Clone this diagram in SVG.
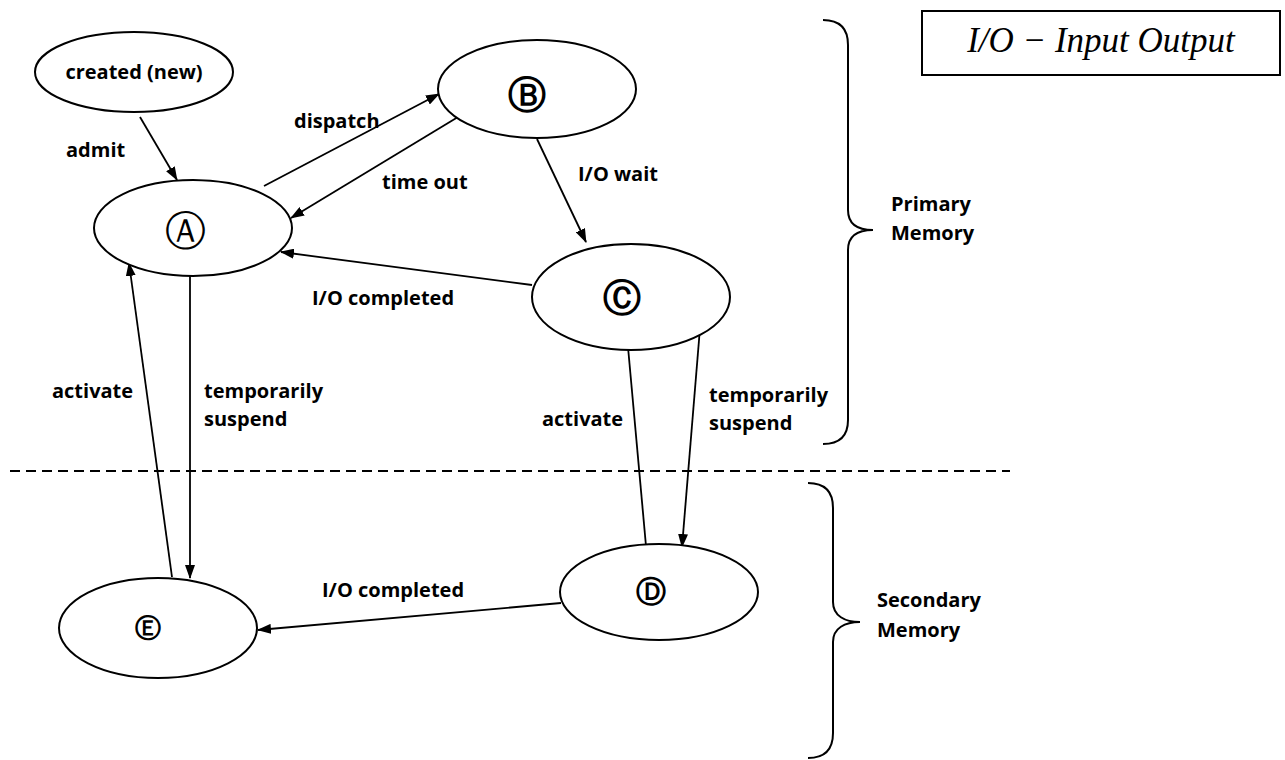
<svg xmlns="http://www.w3.org/2000/svg" width="1285" height="760" viewBox="0 0 1285 760">
<style>
.n{fill:#fff;stroke:#000;stroke-width:2}
.t{font-family:"Open Sans","Liberation Sans",sans-serif;font-weight:bold;font-size:20px;fill:#000}
.c{font-family:"DejaVu Sans",sans-serif;fill:#000;text-anchor:middle}
.e{fill:none;stroke:#000;stroke-width:1.8;marker-end:url(#ah)}
.br{fill:none;stroke:#000;stroke-width:2}
</style>
<defs>
<marker id="ah" markerUnits="userSpaceOnUse" markerWidth="14" markerHeight="10" refX="13" refY="5" orient="auto">
<path d="M0,0 L14,5 L0,10 Z" fill="#000"/>
</marker>
</defs>
<rect width="1285" height="760" fill="#fff"/>
<g id="connectors">
<line class="e" x1="140" y1="117" x2="177" y2="180"/>
<line class="e" x1="264" y1="186" x2="439" y2="94"/>
<line class="e" x1="458" y1="117" x2="291" y2="218"/>
<line class="e" x1="537" y1="139" x2="586" y2="242"/>
<line class="e" x1="532" y1="285" x2="281" y2="252"/>
<line class="e" x1="190" y1="276" x2="190" y2="578"/>
<line class="e" x1="172" y1="577" x2="129" y2="263"/>
<line class="e" x1="700" y1="328" x2="682" y2="547"/>
<line class="e" x1="646" y1="546" x2="627" y2="336"/>
<line class="e" x1="561" y1="603" x2="258" y2="630"/>
</g>
<g id="created"><ellipse class="n" cx="134" cy="72" rx="99" ry="40"/><text class="t" x="134" y="79" text-anchor="middle">created (new)</text></g>
<g id="A"><ellipse class="n" cx="193" cy="228" rx="99" ry="48"/><text class="c" x="185" y="245" font-size="41">Ⓐ</text></g>
<g id="B"><ellipse class="n" cx="537" cy="89" rx="99" ry="49"/><text class="c" x="527" y="108" font-size="38" font-weight="bold">Ⓑ</text></g>
<g id="C"><ellipse class="n" cx="631" cy="297" rx="99" ry="53"/><text class="c" x="622" y="311" font-size="38" font-weight="bold">Ⓒ</text></g>
<g id="D"><ellipse class="n" cx="659" cy="592" rx="99" ry="48"/><text class="c" x="651" y="602" font-size="30" font-weight="bold">Ⓓ</text></g>
<g id="E"><ellipse class="n" cx="158" cy="628" rx="99" ry="50"/><text class="c" x="148" y="637" font-size="26" font-weight="bold">Ⓔ</text></g>
<g id="labels">
<text class="t" x="66" y="157">admit</text>
<text class="t" x="294" y="128">dispatch</text>
<text class="t" x="382" y="189">time out</text>
<text class="t" x="578" y="181">I/O wait</text>
<text class="t" x="312" y="305">I/O completed</text>
<text class="t" x="52" y="398">activate</text>
<text class="t" x="204" y="398">temporarily</text>
<text class="t" x="204" y="426">suspend</text>
<text class="t" x="542" y="426">activate</text>
<text class="t" x="709" y="402">temporarily</text>
<text class="t" x="709" y="430">suspend</text>
<text class="t" x="322" y="597">I/O completed</text>
<text class="t" x="891" y="211">Primary</text>
<text class="t" x="891" y="240">Memory</text>
<text class="t" x="877" y="607">Secondary</text>
<text class="t" x="877" y="637">Memory</text>
</g>
<line x1="10" y1="471" x2="1010" y2="471" stroke="#000" stroke-width="2" stroke-dasharray="10,6"/>
<path class="br" d="M823,20 C840,20 848,28 848,45 L848,210 C848,224 858,230 873,230 C858,230 848,236 848,250 L848,420 C848,436 840,444 823,444"/>
<path class="br" d="M808,483 C825,483 833,491 833,508 L833,602 C833,616 845,622 860,622 C845,622 833,628 833,642 L833,733 C833,750 825,758 808,758"/>
<g id="legend">
<rect x="922" y="11" width="358" height="64" fill="#fff" stroke="#000" stroke-width="2"/>
<text x="1101" y="52" text-anchor="middle" font-family="'Liberation Serif',serif" font-style="italic" font-size="35">I/O − Input Output</text>
</g>
</svg>
